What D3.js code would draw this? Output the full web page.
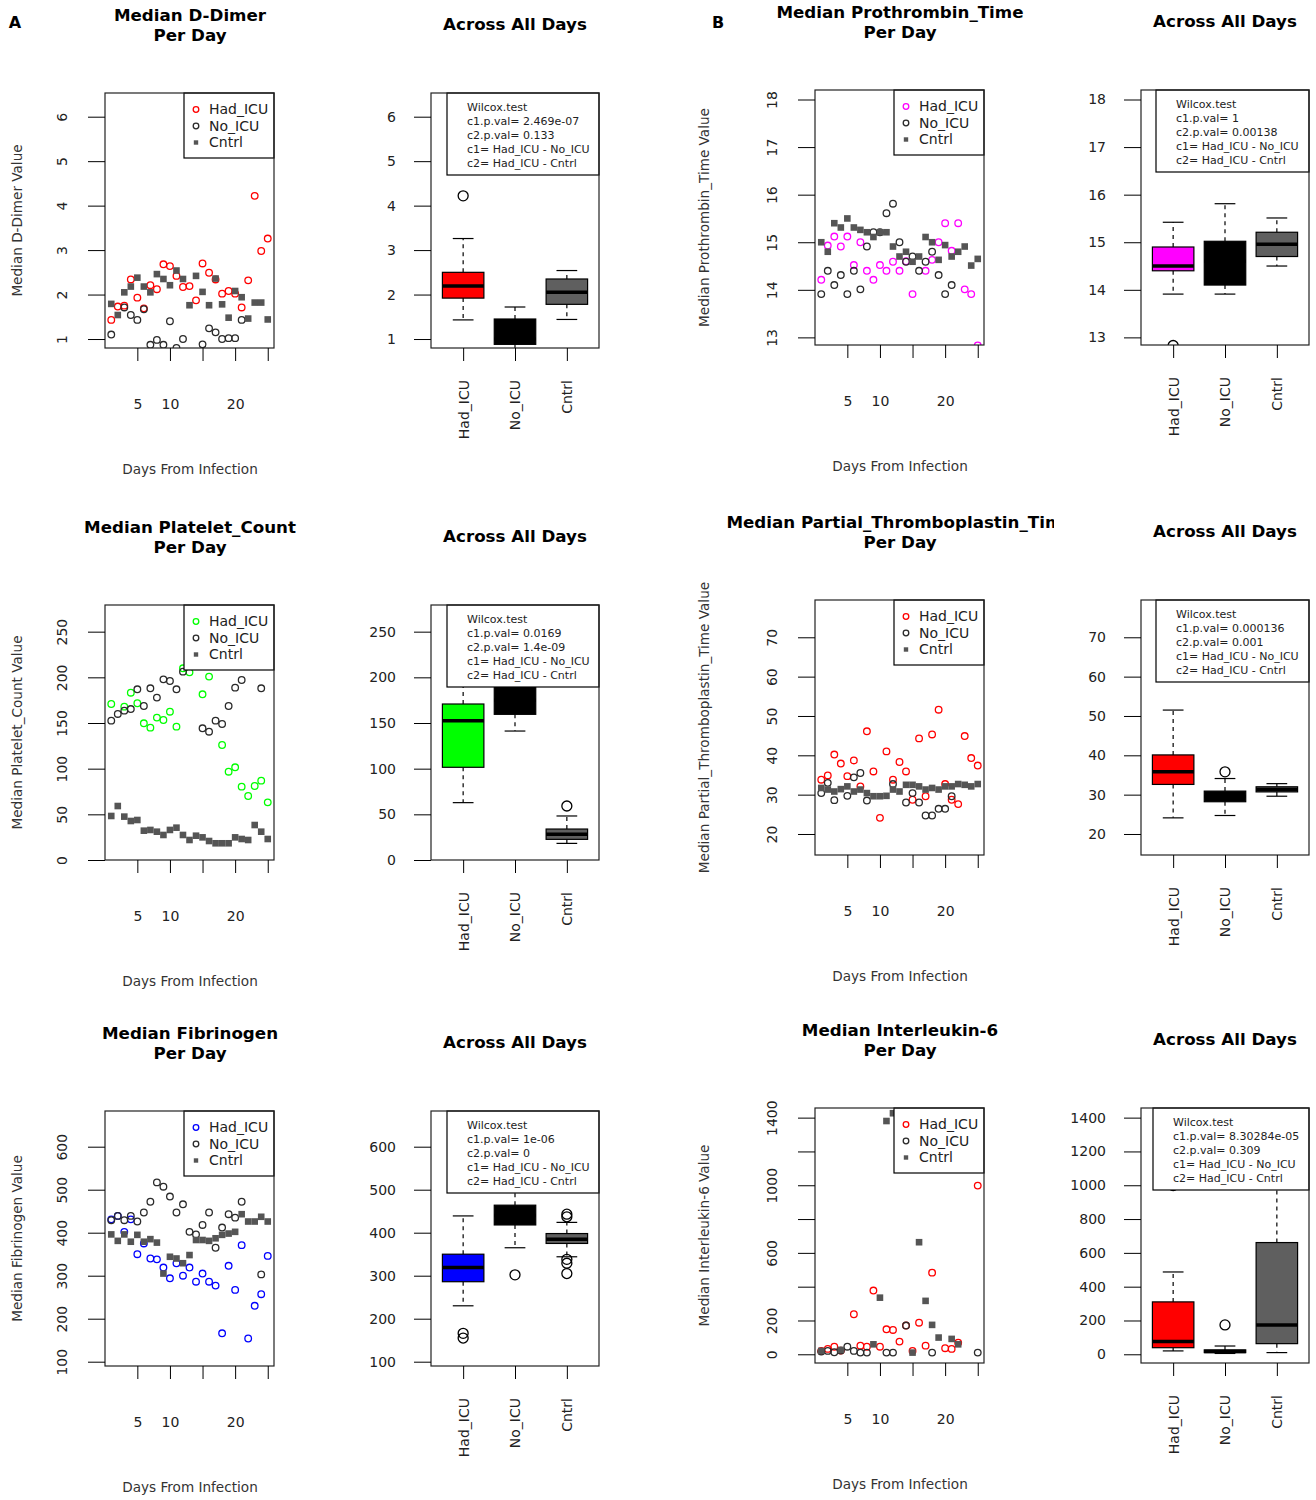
<!DOCTYPE html>
<html>
<head>
<meta charset="utf-8">
<script src="https://cdn.jsdelivr.net/npm/d3@7"></script>
<style>
  body { margin: 0; background: #fff; }
  text { font-family: "DejaVu Sans", sans-serif; }
</style>
</head>
<body>
<svg id="chart" width="1316" height="1500"><defs></defs></svg>
<script>
/////// DATA

const days = [1,2,3,4,5,6,7,8,9,10,11,12,13,14,15,16,17,18,19,20,21,22,23,24,25];
const groups = ["Had_ICU", "No_ICU", "Cntrl"];
const dayTicks = [5, 10, 15, 20, 25];
const dayLabels = [5, 10, 20];

// D-Dimer
const ddHad = [1.43,1.73,1.75,2.34,1.93,1.69,2.21,2.12,2.68,2.64,2.42,2.17,2.19,1.87,2.70,2.49,2.34,2.02,2.08,2.02,1.71,2.32,4.22,2.98,3.26];
const ddNo = [1.10,null,1.71,1.54,1.43,1.67,0.87,0.98,0.87,1.40,0.80,1.00,null,null,0.88,1.24,1.15,1.00,1.02,1.02,1.43,null,null,null,null];
const ddCntrl = [1.79,1.54,2.05,2.18,2.38,2.18,2.05,2.46,2.35,2.21,2.54,2.35,1.76,2.42,2.06,1.76,2.36,1.78,1.48,2.08,1.94,1.46,1.82,1.82,1.44];
const ddBox = [[1.43,1.92,2.19,2.50,3.26],[0.78,0.88,1.00,1.45,1.72],[1.44,1.78,2.05,2.35,2.54]];
const ddOut = [[4.22],[],[]];
const ddTicks = [1,2,3,4,5,6];

// Prothrombin time
const ptHad = [14.21,14.93,15.12,14.91,15.12,14.52,15.00,14.40,14.21,14.52,14.40,14.59,14.40,14.60,13.91,null,14.40,14.63,15.00,15.40,14.82,15.40,14.01,13.91,12.83];
const ptNo = [13.91,14.40,14.10,14.31,13.91,14.40,14.01,14.91,15.21,15.21,15.61,15.81,15.00,14.59,14.70,14.40,14.59,14.80,14.31,13.91,14.10,null,null,null,null];
const ptCntrl = [15.00,14.80,15.40,15.31,15.50,15.31,15.26,15.21,15.11,15.21,15.21,14.91,14.70,14.80,14.59,14.70,15.11,15.00,14.63,14.94,14.70,14.80,14.91,14.51,14.65];
const ptBox = [[13.91,14.40,14.50,14.90,15.42],[13.91,14.10,14.60,15.02,15.81],[14.50,14.70,14.96,15.21,15.51]];
const ptOut = [[12.83],[],[]];
const ptTicks = [13,14,15,16,17,18];

// Platelet count
const plHad = [170.8,null,167.9,183.2,171.6,149.7,144.9,155.9,153.3,162.4,146.0,209.9,205.5,null,181.4,200.8,null,125.9,96.7,101.5,80.3,70.1,81.0,86.9,63.1];
const plNo = [152.6,159.9,163.5,165.3,186.9,168.6,188.0,177.8,197.8,196.0,186.9,206.2,null,null,144.2,140.5,152.6,148.9,168.6,188.7,197.1,null,null,188.0,null];
const plCntrl = [48.2,59.1,47.5,42.7,43.8,32.1,32.9,31.0,27.4,32.9,35.4,27.4,21.9,26.6,24.8,20.8,18.3,18.3,18.3,24.8,23.0,21.9,38.3,31.0,23.0];
const plBox = [[62.8,101.5,152.6,170.8,210],[141.2,159.5,175,190,206.2],[18.2,22.6,28.1,33.9,48.2]];
const plOut = [[],[],[59.1]];
const plTicks = [0,50,100,150,200,250];

// Partial thromboplastin time
const pttHad = [33.8,34.9,40.2,37.9,34.7,38.7,32.1,46.1,35.9,24.1,41.0,33.8,38.3,35.9,28.7,44.3,29.6,45.3,51.6,32.7,28.7,27.6,44.9,39.3,37.4];
const pttNo = [30.4,33.0,28.6,null,29.7,34.4,35.5,28.5,null,null,null,32.7,null,28.0,30.4,28.0,24.7,24.7,26.4,26.4,29.6,null,null,null,null];
const pttCntrl = [31.7,31.3,30.8,31.4,32.1,30.8,31.3,30.4,29.6,29.6,29.7,31.3,30.8,32.5,32.5,32.1,31.3,31.7,31.3,32.1,32.1,32.7,32.5,32.1,32.7];
const pttBox = [[24.1,32.6,35.8,40.1,51.5],[24.7,28.2,29.5,30.9,34.1],[29.6,30.7,31.3,32.0,32.8]];
const pttOut = [[],[35.8],[]];
const pttTicks = [20,30,40,50,60,70];

// Fibrinogen
const fbHad = [431,439,402,431,350,375,340,338,319,294,329,300,319,286,305,286,277,166,323,267,371,154,230,257,346];
const fbNo = [429,439,429,439,426,447,472,517,507,484,447,466,402,396,418,447,365,412,443,435,472,null,null,303,null];
const fbCntrl = [396,381,396,379,395,379,385,377,305,344,340,329,348,383,383,381,387,395,398,402,443,426,426,437,426];
const fbBox = [[230,286,319,350,439],[365,418,440,464,517],[344,375,385,398,424]];
const fbOut = [[166,155],[302],[443,437,338,329,305]];
const fbTicks = [100,200,300,400,500,600];

// Interleukin-6
const ilHad = [20,32,45,22,null,237,51,45,377,45,148,144,75,170,20,187,51,483,null,36,32,69,null,null,998];
const ilNo = [16,20,12,22,45,20,10,10,null,null,10,10,null,170,null,null,null,10,null,null,null,null,null,null,10];
const ilCntrl = [20,null,null,26,null,null,null,null,59,335,1380,1426,null,null,10,663,316,174,99,null,91,59,null,null,null];
const ilBox = [[20,39,75,310,487],[5,10,16,26,49],[10,63,174,661,1426]];
const ilOut = [[998],[174],[]];
const ilTicks = [0,200,400,600,800,1000,1200,1400];
const ilLabels = [0,200,600,1000,1400];

const pvalC1 = ["2.469e-07", "0.0169", "1e-06", "1", "0.000136", "8.30284e-05"];
const pvalC2 = ["0.133", "1.4e-09", "0", "0.00138", "0.001", "0.309"];

/////// PANEL SETUP

const panels = [
  { id: 0, ox: 0, oy: 0, title: "Median D-Dimer", ylab: "Median D-Dimer Value", ylabX: 17, col: "#ff0000",
    dom: [0.798, 6.533], ticks: ddTicks, labels: ddTicks, had: ddHad, no: ddNo, cn: ddCntrl, box: ddBox, out: ddOut, legX: 447 },
  { id: 1, ox: 0, oy: 512, title: "Median Platelet_Count", ylab: "Median Platelet_Count Value", ylabX: 17, col: "#00ff00",
    dom: [0, 279.2], ticks: plTicks, labels: plTicks, had: plHad, no: plNo, cn: plCntrl, box: plBox, out: plOut, legX: 447 },
  { id: 2, ox: 0, oy: 1018, title: "Median Fibrinogen", ylab: "Median Fibrinogen Value", ylabX: 17, col: "#0000ff",
    dom: [90, 683], ticks: fbTicks, labels: fbTicks, had: fbHad, no: fbNo, cn: fbCntrl, box: fbBox, out: fbOut, legX: 447 },
  { id: 3, ox: 710, oy: -3, title: "Median Prothrombin_Time", ylab: "Median Prothrombin_Time Value", ylabX: -6, col: "#ff00ff",
    dom: [12.84, 18.2], ticks: ptTicks, labels: ptTicks, had: ptHad, no: ptNo, cn: ptCntrl, box: ptBox, out: ptOut, legX: 446 },
  { id: 4, ox: 710, oy: 507, title: "Median Partial_Thromboplastin_Time", ylab: "Median Partial_Thromboplastin_Time Value", ylabX: -6, col: "#ff0000",
    dom: [14.66, 79.48], ticks: pttTicks, labels: pttTicks, had: pttHad, no: pttNo, cn: pttCntrl, box: pttBox, out: pttOut, legX: 446 },
  { id: 5, ox: 710, oy: 1015, title: "Median Interleukin-6", ylab: "Median Interleukin-6 Value", ylabX: -6, col: "#ff0000",
    dom: [-51.5, 1457], ticks: ilTicks, labels: ilLabels, had: ilHad, no: ilNo, cn: ilCntrl, box: ilBox, out: ilOut, legX: 443 }
];

const svg = d3.select("#chart");
const defs = svg.select("defs");

svg.append("text").attr("x", 15).attr("y", 22).attr("dy", "0.35em").attr("text-anchor", "middle")
  .attr("font-size", 16).attr("font-weight", "bold").text("A");
svg.append("text").attr("x", 718).attr("y", 22).attr("dy", "0.35em").attr("text-anchor", "middle")
  .attr("font-size", 16).attr("font-weight", "bold").text("B");

function styleAxis(a) {
  a.attr("font-size", 14).attr("font-family", "DejaVu Sans, sans-serif").attr("color", "#000");
  a.selectAll("text").attr("fill", "#222");
  a.select(".domain").remove();
}

function drawPanel(p) {
  const g = svg.append("g").attr("transform", `translate(${p.ox},${p.oy})`);
  // frame geometry (relative to the panel origin)
  const F = { x0: 105, x1: 274, y0: 93, y1: 348, bx0: 431, bx1: 599 };

  const x = d3.scaleLinear().domain([0.04, 25.96]).range([F.x0, F.x1]);
  const y = d3.scaleLinear().domain(p.dom).range([F.y1, F.y0]);
  const xb = d3.scaleLinear().domain([0.38, 3.62]).range([F.bx0, F.bx1]);

  defs.append("clipPath").attr("id", "sc" + p.id).append("rect")
    .attr("x", F.x0).attr("y", F.y0).attr("width", F.x1 - F.x0).attr("height", F.y1 - F.y0);
  defs.append("clipPath").attr("id", "bc" + p.id).append("rect")
    .attr("x", F.bx0).attr("y", F.y0).attr("width", F.bx1 - F.bx0).attr("height", F.y1 - F.y0);
  defs.append("clipPath").attr("id", "tc" + p.id).append("rect")
    .attr("x", -20).attr("y", 0).attr("width", 364).attr("height", 60);

  // titles
  const tt = g.append("g").attr("clip-path", `url(#tc${p.id})`)
    .attr("font-size", 16.7).attr("font-weight", "bold").attr("text-anchor", "middle");
  tt.append("text").attr("x", 190).attr("y", 15).attr("dy", "0.35em").text(p.title);
  tt.append("text").attr("x", 190).attr("y", 35).attr("dy", "0.35em").text("Per Day");
  g.append("text").attr("x", 515).attr("y", 24).attr("dy", "0.35em").attr("text-anchor", "middle")
    .attr("font-size", 16.7).attr("font-weight", "bold").text("Across All Days");

  ////// per-day scatter
  const sp = g.append("g").attr("clip-path", `url(#sc${p.id})`);
  const pts = arr => days.map((d, i) => ({ d, v: arr[i] })).filter(o => o.v != null);

  sp.selectAll("circle.had").data(pts(p.had)).join("circle").attr("class", "had")
    .attr("cx", o => x(o.d)).attr("cy", o => y(o.v)).attr("r", 3.3)
    .attr("fill", "none").attr("stroke", p.col).attr("stroke-width", 1.3);
  sp.selectAll("circle.no").data(pts(p.no)).join("circle").attr("class", "no")
    .attr("cx", o => x(o.d)).attr("cy", o => y(o.v)).attr("r", 3.3)
    .attr("fill", "none").attr("stroke", "#2a2a2a").attr("stroke-width", 1.3);
  sp.selectAll("rect.cn").data(pts(p.cn)).join("rect").attr("class", "cn")
    .attr("x", o => x(o.d) - 3.3).attr("y", o => y(o.v) - 3.3).attr("width", 6.6).attr("height", 6.6)
    .attr("fill", "#555");

  // scatter legend
  const sl = g.append("g");
  sl.append("rect").attr("x", 184).attr("y", F.y0).attr("width", F.x1 - 184).attr("height", 65)
    .attr("fill", "#fff").attr("stroke", "#000").attr("stroke-width", 1.2);
  const ly = [109.5, 126, 142.5];
  sl.append("circle").attr("cx", 196).attr("cy", ly[0]).attr("r", 2.8).attr("fill", "none").attr("stroke", p.col).attr("stroke-width", 1.3);
  sl.append("circle").attr("cx", 196).attr("cy", ly[1]).attr("r", 2.8).attr("fill", "none").attr("stroke", "#2a2a2a").attr("stroke-width", 1.3);
  sl.append("rect").attr("x", 193.8).attr("y", ly[2] - 2.2).attr("width", 4.4).attr("height", 4.4).attr("fill", "#555");
  groups.forEach((t, k) => sl.append("text").attr("x", 209).attr("y", ly[k]).attr("dy", "0.35em")
    .attr("font-size", 14).attr("fill", "#222").text(t));

  g.append("rect").attr("x", F.x0).attr("y", F.y0).attr("width", F.x1 - F.x0).attr("height", F.y1 - F.y0)
    .attr("fill", "none").attr("stroke", "#222").attr("stroke-width", 1.2);

  // scatter axes
  g.append("g").attr("transform", `translate(${F.x0},0)`)
    .call(d3.axisLeft(y).tickValues(p.ticks).tickSize(17).tickFormat(d => p.labels.includes(d) ? d : ""))
    .call(styleAxis)
    .call(a => a.selectAll("text").attr("x", 0).attr("dy", "0.35em").attr("text-anchor", "middle")
      .attr("transform", "translate(-43,0) rotate(-90)"));

  g.append("g").attr("transform", `translate(0,${F.y1})`)
    .call(d3.axisBottom(x).tickValues(dayTicks).tickSize(13).tickPadding(38)
      .tickFormat(d => dayLabels.includes(d) ? d : ""))
    .call(styleAxis);

  g.append("text").attr("x", 190).attr("y", 469).attr("dy", "0.35em").attr("text-anchor", "middle")
    .attr("font-size", 13.6).attr("fill", "#333").text("Days From Infection");
  g.append("text").attr("transform", `translate(${p.ylabX},220.5) rotate(-90)`).attr("dy", "0.35em")
    .attr("text-anchor", "middle").attr("font-size", 13.6).attr("fill", "#333").text(p.ylab);

  ////// across-all-days boxplot
  const bp = g.append("g").attr("clip-path", `url(#bc${p.id})`);
  const fills = [p.col, "#000000", "#5f5f5f"];
  const hw = xb(1.4) - xb(1);
  p.box.forEach((s, i) => {
    const cx = xb(i + 1);
    const bg = bp.append("g").attr("stroke", "#000");
    bg.append("line").attr("x1", cx).attr("x2", cx).attr("y1", y(s[3])).attr("y2", y(s[4]))
      .attr("stroke-width", 1.2).attr("stroke-dasharray", "4,4");
    bg.append("line").attr("x1", cx).attr("x2", cx).attr("y1", y(s[1])).attr("y2", y(s[0]))
      .attr("stroke-width", 1.2).attr("stroke-dasharray", "4,4");
    [s[0], s[4]].forEach(v => bg.append("line").attr("x1", cx - hw / 2).attr("x2", cx + hw / 2)
      .attr("y1", y(v)).attr("y2", y(v)).attr("stroke-width", 1.2));
    bg.append("rect").attr("x", cx - hw).attr("width", 2 * hw)
      .attr("y", y(s[3])).attr("height", y(s[1]) - y(s[3]))
      .attr("fill", fills[i]).attr("stroke-width", 1.2);
    bg.append("line").attr("x1", cx - hw).attr("x2", cx + hw).attr("y1", y(s[2])).attr("y2", y(s[2]))
      .attr("stroke-width", 3.5);
    bg.selectAll("circle").data(p.out[i]).join("circle")
      .attr("cx", cx).attr("cy", v => y(v)).attr("r", 5).attr("fill", "none").attr("stroke-width", 1.3);
  });

  // Wilcox legend
  const wl = g.append("g");
  wl.append("rect").attr("x", p.legX).attr("y", F.y0).attr("width", F.bx1 - p.legX).attr("height", 82)
    .attr("fill", "#fff").attr("stroke", "#000").attr("stroke-width", 1.2);
  const lines = ["Wilcox.test", "c1.p.val= " + pvalC1[p.id], "c2.p.val= " + pvalC2[p.id],
    "c1= Had_ICU - No_ICU", "c2= Had_ICU - Cntrl"];
  lines.forEach((t, k) => wl.append("text").attr("x", p.legX + 20).attr("y", 106.7 + 14 * k)
    .attr("dy", "0.35em").attr("font-size", 11).attr("fill", "#222").text(t));

  g.append("rect").attr("x", F.bx0).attr("y", F.y0).attr("width", F.bx1 - F.bx0).attr("height", F.y1 - F.y0)
    .attr("fill", "none").attr("stroke", "#222").attr("stroke-width", 1.2);

  g.append("g").attr("transform", `translate(${F.bx0},0)`)
    .call(d3.axisLeft(y).tickValues(p.ticks).tickSize(17).tickPadding(18).tickFormat(d => String(d)))
    .call(styleAxis);

  g.append("g").attr("transform", `translate(0,${F.y1})`)
    .call(d3.axisBottom(xb).tickValues([1, 2, 3]).tickSize(13).tickFormat((d, i) => groups[i]))
    .call(styleAxis)
    .call(a => a.selectAll("text").attr("x", 0).attr("y", 0).attr("dy", "0.35em").attr("text-anchor", "end")
      .attr("transform", "translate(0,32) rotate(-90)"));
}

panels.forEach(drawPanel);
</script>
</body>
</html>
